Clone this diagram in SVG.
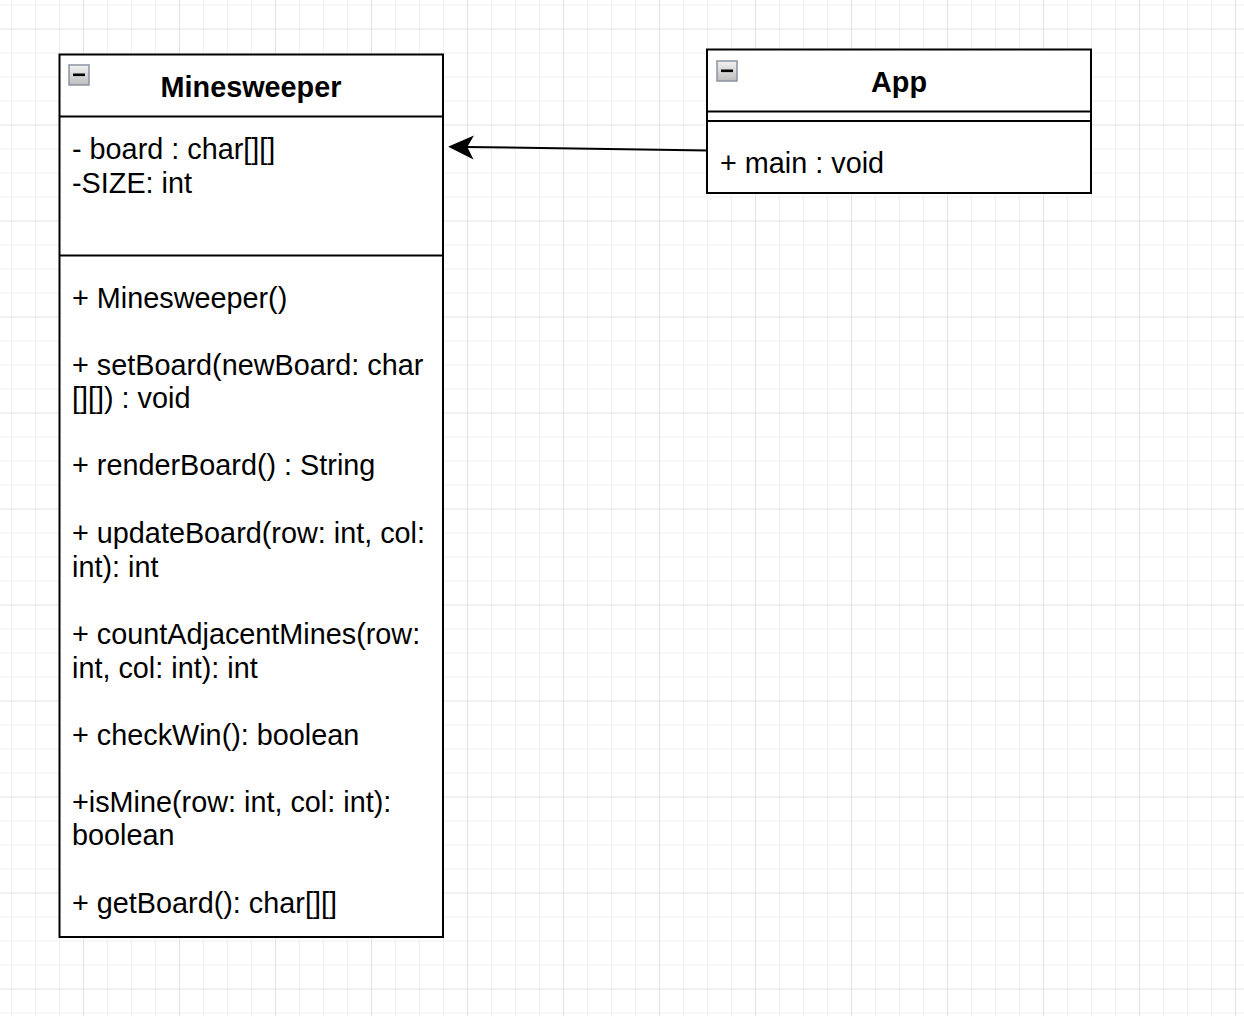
<svg xmlns="http://www.w3.org/2000/svg" width="1244" height="1016" viewBox="0 0 1244 1016">
<style>
.box{fill:#ffffff;stroke:#000000;stroke-width:2}
.div{stroke:#000000;stroke-width:2;fill:none}
.title{font-family:"Liberation Sans",Arial,Helvetica,sans-serif;font-size:28.8px;font-weight:bold;fill:#000000;text-anchor:middle}
.txt{font-family:"Liberation Sans",Arial,Helvetica,sans-serif;font-size:28.8px;fill:#000000}
.conn{stroke:#000000;stroke-width:2;fill:none}
.head{fill:#000000;stroke:#000000;stroke-width:1.5;stroke-linejoin:miter}
</style>
<defs>
<pattern id="grid" patternUnits="userSpaceOnUse" x="83" y="28.5" width="96" height="96">
<rect x="0" y="0" width="96" height="96" fill="#ffffff"/>
<g fill="#f0f0f0">
<rect x="24" y="0" width="1" height="96"/>
<rect x="48" y="0" width="1" height="96"/>
<rect x="72" y="0" width="1" height="96"/>
<rect x="0" y="24" width="96" height="1"/>
<rect x="0" y="48" width="96" height="1"/>
<rect x="0" y="72" width="96" height="1"/>
</g>
<g fill="#e2e2e2">
<rect x="0" y="0" width="1" height="96"/>
<rect x="0" y="0" width="96" height="1"/>
</g>
</pattern>
<linearGradient id="icoGrad" x1="0" y1="0" x2="0" y2="1">
<stop offset="0" stop-color="#f2f2f2"/>
<stop offset="1" stop-color="#bdbdbd"/>
</linearGradient>
<g id="collapse">
<rect x="0.5" y="0.5" width="20" height="20" fill="url(#icoGrad)" stroke="#8a93a3" stroke-width="1.5"/>
<rect x="4.5" y="9" width="12" height="2.6" fill="#000000"/>
</g>
</defs>
<rect x="0" y="0" width="1244" height="1016" fill="url(#grid)"/>

<g id="connectors">
<path class="conn" d="M708,150.5 L466,146.9"/>
<path class="head" d="M450,146.7 L472.15,137 L466.5,147 L471.85,157.8 Z"/>
</g>

<g id="node-minesweeper">
<rect class="box" x="59.5" y="54.5" width="383.5" height="882.5"/>
<line class="div" x1="59.5" y1="116.5" x2="443" y2="116.5"/>
<line class="div" x1="59.5" y1="255.5" x2="443" y2="255.5"/>
<use href="#collapse" x="68.5" y="64.5"/>
<text class="title" x="251" y="97">Minesweeper</text>
<text class="txt" x="72" y="159">- board : char[][]</text>
<text class="txt" x="72" y="192.6">-SIZE: int</text>
<text class="txt" x="72" y="308">+ Minesweeper()</text>
<text class="txt" x="72" y="374.5">+ setBoard(newBoard: char</text>
<text class="txt" x="72" y="408">[][]) : void</text>
<text class="txt" x="72" y="475">+ renderBoard() : String</text>
<text class="txt" x="72" y="543">+ updateBoard(row: int, col:</text>
<text class="txt" x="72" y="576.6">int): int</text>
<text class="txt" x="72" y="644">+ countAdjacentMines(row:</text>
<text class="txt" x="72" y="677.6">int, col: int): int</text>
<text class="txt" x="72" y="744.5">+ checkWin(): boolean</text>
<text class="txt" x="72" y="811.5">+isMine(row: int, col: int):</text>
<text class="txt" x="72" y="845">boolean</text>
<text class="txt" x="72" y="912.5">+ getBoard(): char[][]</text>
</g>

<g id="node-app">
<rect class="box" x="707" y="49.5" width="384" height="143.5"/>
<line class="div" x1="707" y1="111.5" x2="1091" y2="111.5"/>
<line class="div" x1="707" y1="121" x2="1091" y2="121"/>
<use href="#collapse" x="716.5" y="60.5"/>
<text class="title" x="899" y="92">App</text>
<text class="txt" x="720" y="173">+ main : void</text>
</g>
</svg>
